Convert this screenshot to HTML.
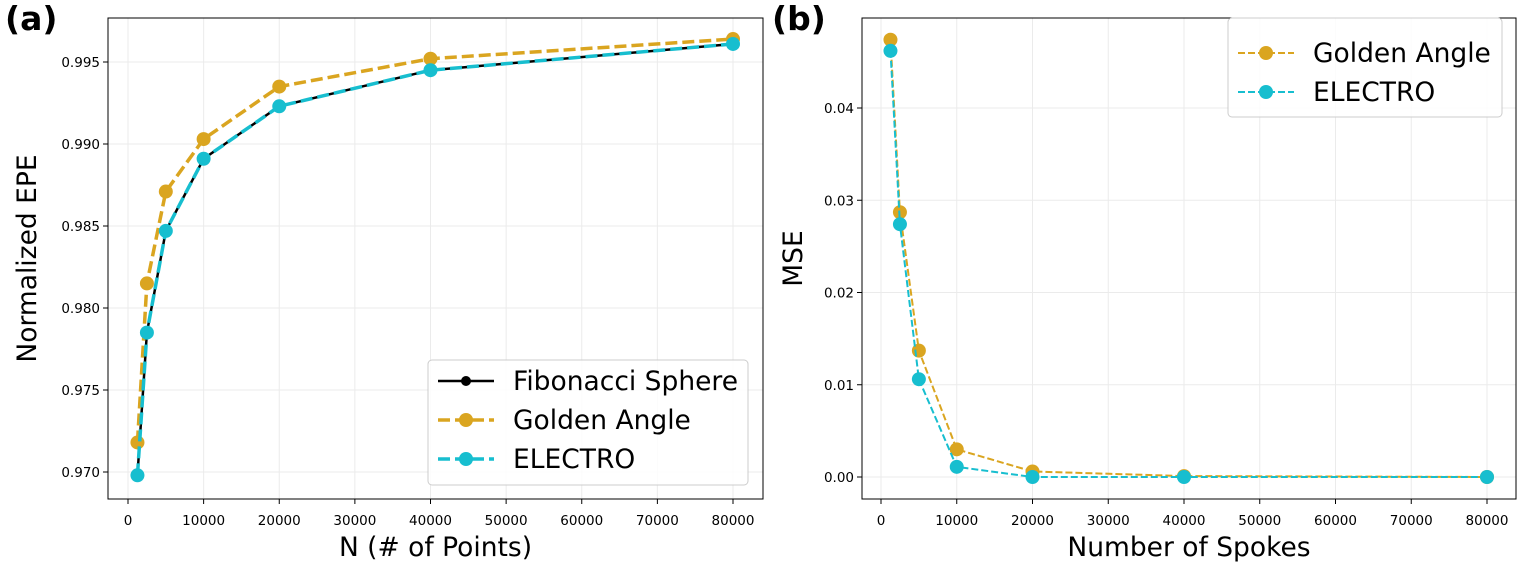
<!DOCTYPE html>
<html><head><meta charset="utf-8"><style>
body{margin:0;background:#fff;}
svg{display:block;font-family:"DejaVu Sans","Liberation Sans",sans-serif;}
</style></head><body>
<svg id="fig" width="1536" height="576"></svg>
<script>
const xs = [1250, 2500, 5000, 10000, 20000, 40000, 80000];
const fibA = [0.9698, 0.9785, 0.9847, 0.9891, 0.9923, 0.9945, 0.9961];
const goldA = [0.9718, 0.9815, 0.9871, 0.9903, 0.9935, 0.9952, 0.9964];
const elecA = [0.9698, 0.9785, 0.9847, 0.9891, 0.9923, 0.9945, 0.9961];
const goldB = [0.0474, 0.0287, 0.0137, 0.0030, 0.0006, 0.0001, 0.0000];
const elecB = [0.0462, 0.0274, 0.0106, 0.0011, 0.0000, 0.0000, 0.0000];
const xTicks = [0,10000,20000,30000,40000,50000,60000,70000,80000];
const yTicksA = [0.970,0.975,0.980,0.985,0.990,0.995];
const yTicksB = [0.00,0.01,0.02,0.03,0.04];

const NS="http://www.w3.org/2000/svg";
const svg=document.getElementById('fig');
function mk(tag,attrs,parent,name,inter){
  const e=document.createElementNS(NS,tag);
  for(const k in attrs)e.setAttribute(k,attrs[k]);
  
  
  (parent||svg).appendChild(e);return e;
}
const GOLD="#DAA520", CYAN="#17BECF";

function panel(cfg){
  const g=mk('g',{},svg,cfg.id,false);
  const X=v=>cfg.x0+(v-0)/80000*(cfg.x80-cfg.x0);
  const Y=v=>cfg.yA+(v-cfg.vA)/(cfg.vB-cfg.vA)*(cfg.yB-cfg.yA);
  xTicks.forEach(t=>{mk('line',{x1:X(t),x2:X(t),y1:cfg.top,y2:cfg.bot,stroke:'#ebebeb','stroke-width':1},g,'x-grid-line',false);});
  cfg.yt.forEach(t=>{mk('line',{x1:cfg.left,x2:cfg.right,y1:Y(t),y2:Y(t),stroke:'#ebebeb','stroke-width':1},g,'y-grid-line',false);});
  xTicks.forEach(t=>{
    mk('line',{x1:X(t),x2:X(t),y1:cfg.bot,y2:cfg.bot+5,stroke:'#000'},g,'x-tick',false);
    const tx=mk('text',{x:X(t),y:cfg.bot+26,'font-size':13.5,'text-anchor':'middle'},g,'x-tick-label',false);tx.textContent=t;
  });
  cfg.yt.forEach(t=>{
    mk('line',{x1:cfg.left-5,x2:cfg.left,y1:Y(t),y2:Y(t),stroke:'#000'},g,'y-tick',false);
    const tx=mk('text',{x:cfg.left-8,y:Y(t)+5,'font-size':13.5,'text-anchor':'end'},g,'y-tick-label',false);tx.textContent=t.toFixed(cfg.dec);
  });
  cfg.series.forEach(s=>{
    const pts=xs.map((x,i)=>X(x)+','+Y(s.v[i])).join(' ');
    mk('polyline',{points:pts,fill:'none',stroke:s.c,'stroke-width':s.w,'stroke-dasharray':s.dash||'none'},g,s.name+'-line',false);
    xs.forEach((x,i)=>mk('circle',{cx:X(x),cy:Y(s.v[i]),r:s.r,fill:s.c},g,s.name+'-point',false));
  });
  mk('rect',{x:cfg.left,y:cfg.top,width:cfg.right-cfg.left,height:cfg.bot-cfg.top,fill:'none',stroke:'#000','stroke-width':1},g,'plot-frame',false);
  const xl=mk('text',{x:(cfg.left+cfg.right)/2,y:556,'font-size':26.5,'text-anchor':'middle'},g,'x-axis-title',false);xl.textContent=cfg.xlabel;
  const yl=mk('text',{x:0,y:0,'font-size':26.5,'text-anchor':'middle',transform:`translate(${cfg.ylx},${(cfg.top+cfg.bot)/2}) rotate(-90)`},g,'y-axis-title',false);yl.textContent=cfg.ylabel;
  const pl=mk('text',{x:cfg.plx,y:30,'font-size':33,'font-weight':'bold'},g,'panel-label',false);pl.textContent=cfg.plabel;
  const L=cfg.leg;
  const lg=mk('g',{},g,'legend',false);
  mk('rect',{x:L.x,y:L.y,width:L.w,height:L.h,rx:4,fill:'#fff','fill-opacity':0.85,stroke:'#ccc'},lg,'legend-box',false);
  cfg.series.forEach((s,i)=>{
    const yy=L.y+L.first+i*L.step;
    mk('line',{x1:L.x+10,x2:L.x+66,y1:yy,y2:yy,stroke:s.c,'stroke-width':s.w,'stroke-dasharray':s.dash||'none'},lg,'legend-swatch',false);
    mk('circle',{cx:L.x+38,cy:yy,r:s.lr||s.r,fill:s.c},lg,'legend-marker',false);
    const t=mk('text',{x:L.x+85,y:yy+9,'font-size':26.5},lg,'legend-entry',false);t.textContent=s.label;
  });
}
panel({id:'panel-a',left:108,right:763,top:18,bot:499,x0:128,x80:733,yA:472,vA:0.970,yB:62,vB:0.995,yt:yTicksA,dec:3,
  xlabel:'N (# of Points)',ylabel:'Normalized EPE',ylx:36,plx:5,plabel:'(a)',
  series:[
    {name:'fibonacci',label:'Fibonacci Sphere',v:fibA,c:'#000',w:2.5,r:3,lr:5},
    {name:'golden-angle',label:'Golden Angle',v:goldA,c:GOLD,w:3.5,r:7,dash:'12,5'},
    {name:'electro',label:'ELECTRO',v:elecA,c:CYAN,w:3.5,r:7,dash:'12,5'}],
  leg:{x:428,y:360,w:320,h:125,first:21,step:39}});
panel({id:'panel-b',left:862,right:1516,top:18,bot:499,x0:881,x80:1487,yA:477,vA:0,yB:108,vB:0.04,yt:yTicksB,dec:2,
  xlabel:'Number of Spokes',ylabel:'MSE',ylx:802,plx:772,plabel:'(b)',
  series:[
    {name:'golden-angle',label:'Golden Angle',v:goldB,c:GOLD,w:2,r:7,dash:'7,3'},
    {name:'electro',label:'ELECTRO',v:elecB,c:CYAN,w:2,r:7,dash:'7,3'}],
  leg:{x:1228,y:18,w:274,h:99,first:35,step:39}});
</script>
</body></html>
